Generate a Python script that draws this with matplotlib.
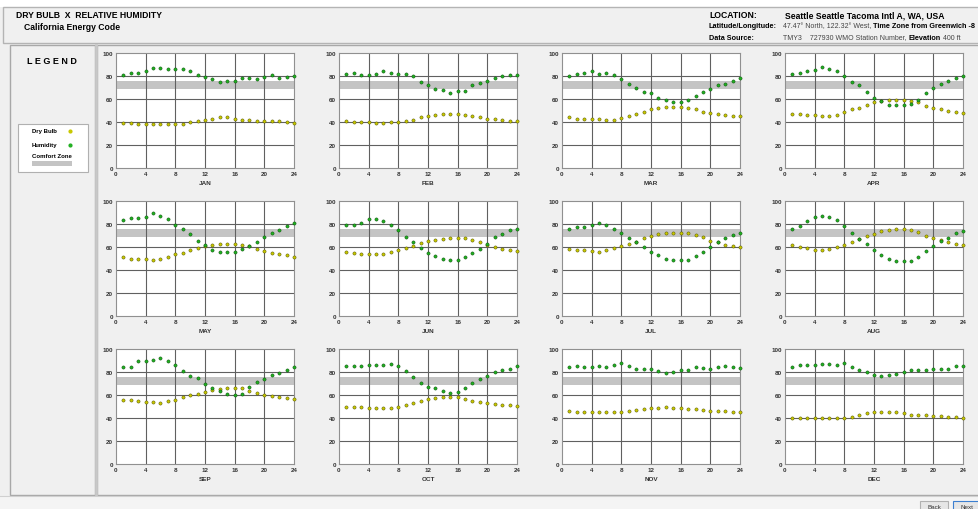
import matplotlib
matplotlib.use('Agg')
import matplotlib.pyplot as plt
from matplotlib.patches import Rectangle

plt.rcParams['font.family'] = ['Liberation Sans', 'DejaVu Sans']

# hours 1..24
hours = list(range(1, 25))
months = ['JAN', 'FEB', 'MAR', 'APR', 'MAY', 'JUN', 'JUL', 'AUG', 'SEP', 'OCT', 'NOV', 'DEC']

# relative humidity (%)
hum_jan = [81, 83, 83, 84, 87, 87, 86, 86, 86, 84, 81, 79, 77, 75, 76, 76, 78, 78, 77, 79, 81, 78, 79, 80]
hum_feb = [82, 83, 81, 81, 82, 84, 83, 82, 82, 80, 75, 72, 69, 68, 65, 67, 67, 72, 74, 76, 78, 80, 81, 81]
hum_mar = [80, 82, 83, 84, 82, 83, 81, 77, 73, 70, 66, 65, 61, 59, 57, 57, 59, 63, 66, 69, 72, 73, 76, 78]
hum_apr = [82, 83, 84, 85, 88, 86, 84, 80, 75, 72, 66, 61, 58, 55, 55, 55, 56, 59, 65, 70, 73, 76, 78, 80]
hum_may = [83.5, 85, 85.5, 86.5, 89.5, 87, 84, 79.5, 76, 71, 65, 61.5, 57.5, 56, 55.5, 56, 58, 61, 64.5, 68.5, 72, 74.5, 78, 81]
hum_jun = [79, 79, 81, 84, 84, 83, 79, 75, 69, 64, 59, 55, 52, 50, 48.5, 49, 51, 54.5, 58.5, 63, 69, 71, 74.5, 76]
hum_jul = [75.5, 77.5, 77.5, 79.5, 81, 79.5, 75.5, 72, 68, 64.5, 60, 56, 53, 50, 49, 48.5, 49, 52, 55.5, 60, 64, 68, 70.5, 72.5]
hum_aug = [76, 78.5, 82.5, 86, 87, 86.5, 83.5, 78.5, 72.5, 67, 62.5, 57, 53, 49.5, 48, 47.5, 48, 51.5, 56.5, 61, 65, 67.5, 72, 73.5]
hum_sep = [84.5, 84.5, 89.5, 89.5, 90.5, 92.5, 90, 86, 80.5, 76.5, 74.5, 70, 66, 63.5, 61, 60, 61, 67, 71, 74, 77, 79.5, 81.5, 84]
hum_oct = [85.5, 85, 85.5, 86, 86.5, 86, 87, 85, 81, 76, 70.5, 67, 66.5, 63.5, 61.5, 63, 66.5, 70.5, 73.5, 76.5, 80, 81.5, 83, 85]
hum_nov = [84, 85, 84, 84, 85.5, 84.5, 86.5, 87.5, 85, 83, 82.5, 82.5, 80.5, 79.5, 80, 81.5, 82, 84, 83.5, 83, 84, 85, 84.5, 83.5]
hum_dec = [84.5, 86, 86.5, 86, 87, 87, 86.5, 88, 84.5, 82, 80, 77.5, 76.5, 77, 78.5, 80, 81.5, 82, 82, 82.5, 83, 83, 85, 85.5]

# dry bulb (F)
dry_jan = [39, 39, 38.5, 38, 38, 38, 38, 38, 38.5, 40, 41, 42, 43, 44, 44, 43, 42, 41.5, 41, 41, 40.5, 41, 40, 39.5]
dry_feb = [41, 40, 40, 40, 39.5, 39.5, 40, 40, 41, 42, 44, 45, 46, 47, 47, 47, 46, 45, 44, 43, 42.5, 42, 41, 41]
dry_mar = [44, 43, 43, 43, 42.5, 42, 42, 43.5, 45.5, 47, 49, 51, 52, 53, 53, 53, 52, 51, 49, 48, 47, 46.5, 45.5, 45]
dry_apr = [47, 47, 46, 46, 45, 45.5, 46.5, 48.5, 51, 52.5, 55, 57, 58, 59, 59, 59, 58.5, 57, 54, 52, 51, 49.5, 49, 48]
dry_may = [51, 50, 50, 49.5, 48.5, 49.5, 51, 53.5, 55, 57, 59, 61, 62, 63, 63, 63, 62, 61, 58.5, 56.5, 54.5, 54, 53, 51.5]
dry_jun = [55.5, 55, 54, 53.5, 53.5, 54, 55.5, 57, 59, 61, 63.5, 65, 66, 67, 67.5, 68, 67.5, 66, 64.5, 62, 60, 58.5, 57, 56.5]
dry_jul = [58.5, 57.5, 57, 56.5, 56, 57, 59, 61, 62.5, 64.5, 67.5, 69.5, 71, 72, 72.5, 72.5, 72, 70.5, 68.5, 65.5, 64, 62, 61, 60]
dry_aug = [61.5, 60, 59, 57.5, 57.5, 58, 60, 62, 64.5, 67, 69.5, 71.5, 73.5, 75, 75.5, 76, 75, 73, 70, 67.5, 66, 64.5, 63, 62]
dry_sep = [56, 55.5, 54.5, 54, 53.5, 53, 54.5, 56, 58, 60, 61, 63, 64.5, 65, 66, 66.5, 66, 63.5, 61.5, 60, 59, 58.5, 57, 56.5]
dry_oct = [50, 49.5, 49.5, 49, 49, 48.5, 48.5, 50, 51.5, 53, 55, 56.5, 57.5, 58.5, 58.5, 58, 56.5, 55, 54, 53, 52, 51.5, 51, 50.5]
dry_nov = [46, 45.5, 45.5, 45.5, 45, 45, 45, 45, 46, 47, 48, 48.5, 49, 49.5, 49, 48.5, 48, 47.5, 47, 46.5, 46.5, 46, 45.5, 45.5]
dry_dec = [40, 40, 40, 40, 40, 40, 40, 40, 41, 42.5, 44, 45, 45.5, 45.5, 45, 44, 43, 42.5, 42.5, 42, 41.5, 41, 40.5, 40]

humidity = [hum_jan, hum_feb, hum_mar, hum_apr, hum_may, hum_jun,
            hum_jul, hum_aug, hum_sep, hum_oct, hum_nov, hum_dec]
drybulb = [dry_jan, dry_feb, dry_mar, dry_apr, dry_may, dry_jun,
           dry_jul, dry_aug, dry_sep, dry_oct, dry_nov, dry_dec]

comfort_lo, comfort_hi = 68.5, 75.5
xticks = [0, 4, 8, 12, 16, 20, 24]
yticks = [0, 20, 40, 60, 80, 100]

W, H = 979, 510
fig = plt.figure(figsize=(W / 100, H / 100), dpi=100)
fig.patch.set_facecolor('#f0f0f0')

# background frame drawn in pixel units
bg = fig.add_axes([0, 0, 1, 1])
bg.set_xlim(0, W)
bg.set_ylim(H, 0)
bg.axis('off')
bg.add_patch(Rectangle((0, 0), W, 8, facecolor='white', edgecolor='none'))
bg.add_patch(Rectangle((3, 8), W, 36, facecolor='#f0f0f0', edgecolor='#b4b4b4', lw=1))
bg.add_patch(Rectangle((10, 46), 85, 450, facecolor='#f0f0f0', edgecolor='#a8a8a8', lw=1))
bg.add_patch(Rectangle((97, 46), W, 450, facecolor='#f0f0f0', edgecolor='#a8a8a8', lw=1))
bg.plot([96, 96], [46, 496], color='#c8c8c8', lw=2)
bg.add_patch(Rectangle((0, 497), W, 13, facecolor='#f4f4f4', edgecolor='none'))
bg.plot([0, W], [497, 497], color='#d0d0d0', lw=0.8)


def chain(parts, x, y):
    # write a row of text pieces one after the other
    prev = None
    for txt, bold, fs in parts:
        kw = dict(fontsize=fs, fontweight='bold' if bold else 'normal',
                  color='black' if bold else '#444444', va='center', ha='left')
        if prev is None:
            prev = bg.text(x, y, txt, **kw)
        else:
            prev = bg.annotate(txt, xy=(1, 0.5), xycoords=prev, **kw)


# header
bg.text(16, 16, 'DRY BULB  X  RELATIVE HUMIDITY', fontsize=6.2, fontweight='bold', va='center')
bg.text(24, 28, 'California Energy Code', fontsize=6.2, fontweight='bold', va='center')
bg.text(709, 16, 'LOCATION:', fontsize=6.2, fontweight='bold', va='center')
bg.text(785, 16, 'Seattle Seattle Tacoma Intl A, WA, USA', fontsize=6.2, fontweight='bold', va='center')
bg.text(709, 27, 'Latitude/Longitude:', fontsize=5.2, fontweight='bold', va='center')
chain([('47.47° North, 122.32° West, ', False, 5.0),
       ('Time Zone from Greenwich -8', True, 5.2)], 783, 27)
bg.text(709, 38, 'Data Source:', fontsize=5.2, fontweight='bold', va='center')
chain([('TMY3    727930 WMO Station Number, ', False, 5.0),
       ('Elevation', True, 5.2),
       (' 400 ft', False, 5.0)], 783, 38)

# legend panel
bg.text(52, 62, 'L E G E N D', fontsize=6.5, fontweight='bold', ha='center', va='center')
bg.add_patch(Rectangle((18, 125), 70, 48, facecolor='white', edgecolor='#b0b0b0', lw=0.8))
bg.text(32, 132, 'Dry Bulb', fontsize=4.3, fontweight='bold', va='center')
bg.text(32, 146, 'Humidity', fontsize=4.3, fontweight='bold', va='center')
bg.text(32, 157, 'Comfort Zone', fontsize=4.3, fontweight='bold', va='center')
bg.plot([70], [132], 'o', ms=2.0, mfc='#c8c800', mec='#c8c800')
bg.plot([70], [146], 'o', ms=2.0, mfc='#22b022', mec='#22b022')
bg.add_patch(Rectangle((32, 162), 40, 5, facecolor='#c4c4c4', edgecolor='none'))

# buttons
bg.add_patch(Rectangle((920, 502), 28, 12, facecolor='#e6e6e6', edgecolor='#b0b0b0', lw=0.8))
bg.text(934, 508, 'Back', fontsize=4.5, ha='center', va='center', color='#333333')
bg.add_patch(Rectangle((953, 502), 30, 12, facecolor='#e6e6e6', edgecolor='#3c7fd0', lw=0.8))
bg.text(967, 508, 'Next', fontsize=4.5, ha='center', va='center', color='#333333')

# monthly panels
col_left = [116, 339, 562, 785]
row_top = [54, 202, 350]
aw, ah = 178, 115

for i, name in enumerate(months):
    r, c = divmod(i, 4)
    x0, y0 = col_left[c], row_top[r]
    ax = fig.add_axes([x0 / W, 1 - (y0 + ah) / H, aw / W, ah / H])
    ax.set_facecolor('white')
    ax.axhspan(comfort_lo, comfort_hi, color='#c4c4c4', lw=0, zorder=1)
    for v in xticks[1:-1]:
        ax.axvline(v, color='#606060', lw=0.8, zorder=2)
    for v in yticks[1:-1]:
        ax.axhline(v, color='#606060', lw=0.8, zorder=2)
    ax.plot(hours, drybulb[i], 'o', ms=2.3, mfc='#c8c800', mec='#555500', mew=0.35,
            zorder=3, clip_on=False)
    ax.plot(hours, humidity[i], 'o', ms=2.3, mfc='#22b022', mec='#0b500b', mew=0.35,
            zorder=4, clip_on=False)
    ax.set_xlim(0, 24)
    ax.set_ylim(0, 100)
    ax.set_xticks(xticks)
    ax.set_yticks(yticks)
    ax.tick_params(length=0, labelsize=4.5, pad=2, colors='#333333')
    for lab in ax.get_xticklabels() + ax.get_yticklabels():
        lab.set_fontweight('bold')
    for s in ax.spines.values():
        s.set_color('#909090')
        s.set_linewidth(0.8)
    ax.set_xlabel(name, fontsize=4.6, fontweight='bold', labelpad=3, color='#333333')

fig.savefig('out.png', dpi=100, facecolor=fig.get_facecolor())
